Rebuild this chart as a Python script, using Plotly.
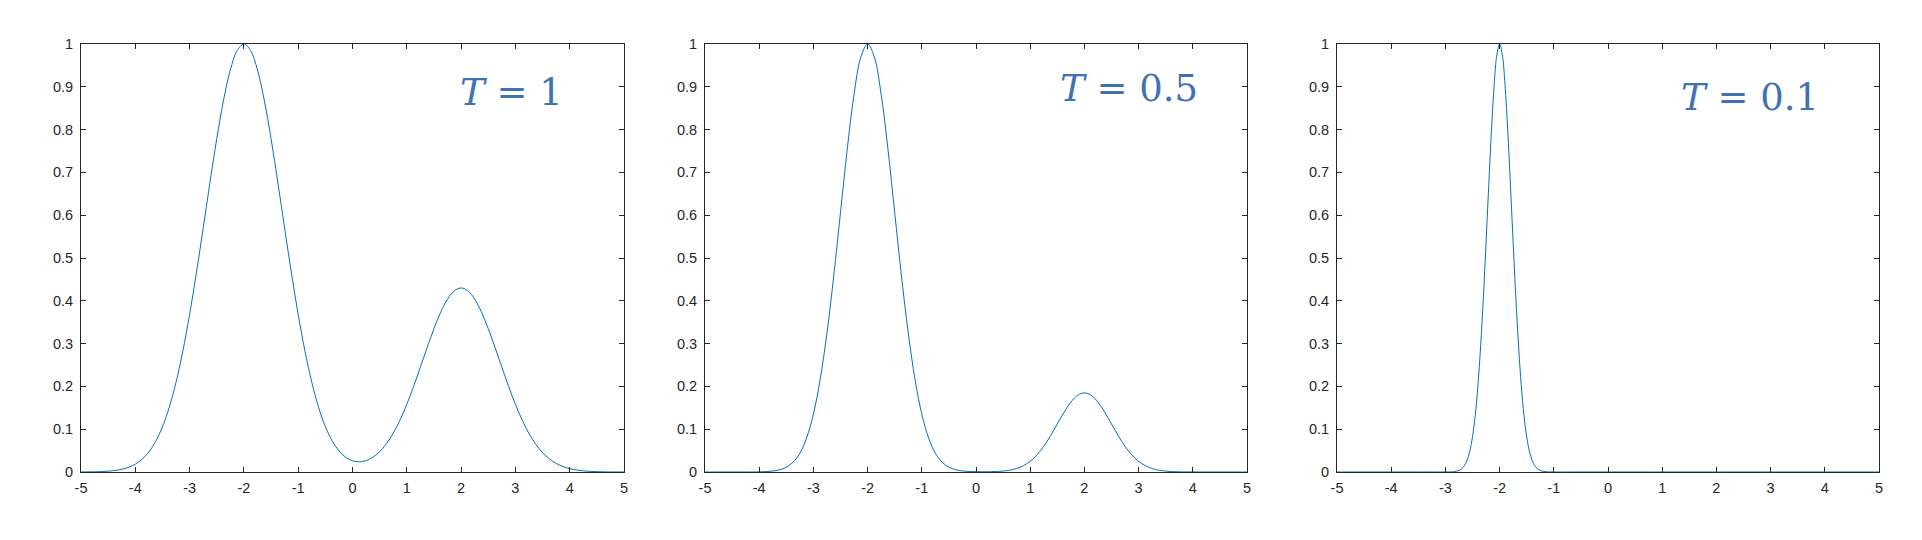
import plotly.graph_objects as go

# ---- data ----
x_t1 = [-5 + 0.125 * i for i in range(81)]
p_t1 = [0.0001, 0.0003, 0.0005, 0.0010, 0.0019, 0.0036, 0.0063, 0.0109, 0.0183, 0.0297, 0.0468, 0.0713,
        0.1054, 0.1510, 0.2096, 0.2821, 0.3679, 0.4650, 0.5698, 0.6766, 0.7788, 0.8688, 0.9394, 0.9845, 1.0,
        0.9845, 0.9394, 0.8688, 0.7788, 0.6766, 0.5698, 0.4650, 0.3679,
        0.2822, 0.2098, 0.1514, 0.1062, 0.0728, 0.0495, 0.0344, 0.0262, 0.0237, 0.0264, 0.0343, 0.0472,
        0.0659, 0.0906, 0.1213, 0.1583, 0.2000, 0.2450, 0.2909, 0.3349, 0.3736, 0.4039, 0.4233, 0.4300,
        0.4233, 0.4039, 0.3736, 0.3349, 0.2909, 0.2450, 0.2000, 0.1582, 0.1213, 0.0901, 0.0649, 0.0453,
        0.0307, 0.0201, 0.0128, 0.0079, 0.0047, 0.0027, 0.0015, 0.0008, 0.0004, 0.0002, 0.0001, 0.0001]

x_t05 = x_t1
p_t05 = [0.0, 0.0, 0.0, 0.0, 0.0, 0.0, 0.00004, 0.0001, 0.0003, 0.0009, 0.0022, 0.0051,
         0.0111, 0.0228, 0.0439, 0.0796, 0.1353, 0.2163, 0.3247, 0.4578, 0.6065, 0.7548, 0.8825, 0.9692, 1.0,
         0.9692, 0.8825, 0.7548, 0.6065, 0.4578, 0.3247, 0.2163, 0.1353,
         0.0796, 0.0440, 0.0229, 0.0113, 0.0053, 0.0025, 0.0012, 0.0007, 0.0006, 0.0007, 0.0012, 0.0022,
         0.0043, 0.0082, 0.0147, 0.0251, 0.0400, 0.0600, 0.0846, 0.1122, 0.1396, 0.1631, 0.1792, 0.1849,
         0.1792, 0.1631, 0.1396, 0.1122, 0.0846, 0.0600, 0.0400, 0.0250, 0.0147, 0.0081, 0.0042, 0.0021,
         0.0009, 0.0004, 0.0002, 0.0001, 0.0, 0.0, 0.0, 0.0, 0.0, 0.0, 0.0, 0.0]

x_t01 = [-5.0, -4.0, -3.5, -3.2, -3.0, -2.9, -2.85, -2.8, -2.75, -2.7, -2.65, -2.6, -2.55, -2.5, -2.45,
         -2.4, -2.35, -2.3, -2.25, -2.2, -2.15, -2.1, -2.05, -2.0, -1.95, -1.9, -1.85, -1.8, -1.75, -1.7,
         -1.65, -1.6, -1.55, -1.5, -1.45, -1.4, -1.35, -1.3, -1.25, -1.2, -1.15, -1.1, -1.0, -0.8, -0.5,
         0.0, 1.0, 2.0, 3.0, 4.0, 5.0]
p_t01 = [0.0, 0.0, 0.0, 0.0, 0.00005, 0.0003, 0.0007, 0.0017, 0.0036, 0.0074, 0.0146, 0.0273, 0.0486, 0.0821, 0.1320,
         0.2019, 0.2938, 0.4066, 0.5353, 0.6703, 0.7985, 0.9048, 0.9753, 1.0, 0.9753, 0.9048, 0.7985, 0.6703, 0.5353, 0.4066,
         0.2938, 0.2019, 0.1320, 0.0821, 0.0486, 0.0273, 0.0146, 0.0074, 0.0036, 0.0017, 0.0007, 0.0003, 0.00005, 0.0, 0.0,
         0.0, 0.0, 0.0, 0.0, 0.0, 0.0]

labels = ["<i>T</i> = 1", "<i>T</i> = 0.5", "<i>T</i> = 0.1"]
label_x = [3.91, 4.13, 3.93]
label_y = [0.886, 0.895, 0.876]

x_ticks = [-5, -4, -3, -2, -1, 0, 1, 2, 3, 4, 5]
y_ticks = [0, 0.1, 0.2, 0.3, 0.4, 0.5, 0.6, 0.7, 0.8, 0.9, 1]
y_ticktext = ["0", "0.1", "0.2", "0.3", "0.4", "0.5", "0.6", "0.7", "0.8", "0.9", "1"]

# ---- layout (pixel geometry) ----
W, H = 1922, 540
panels_px = [(73, 616), (697, 1239), (1329, 1871)]
top_px, bot_px = 36, 464

series = [(x_t1, p_t1), (x_t05, p_t05), (x_t01, p_t01)]

fig = go.Figure()
axis_color = "#262626"
tick_font = dict(family="Liberation Sans, Arial, sans-serif", size=14.5, color=axis_color)
for i, ((xs, ys), (l, r)) in enumerate(zip(series, panels_px)):
    n = "" if i == 0 else str(i + 1)
    fig.add_trace(go.Scatter(
        x=xs, y=ys, mode="lines",
        line=dict(color="#0072BD", width=1, shape="spline", smoothing=1.0),
        xaxis="x" + n, yaxis="y" + n, showlegend=False, hoverinfo="x+y"))
    common = dict(showgrid=False, zeroline=False, showline=True, linecolor=axis_color,
                  linewidth=1, mirror="ticks", ticks="inside", ticklen=5, tickwidth=1,
                  tickcolor=axis_color, automargin=False, tickfont=tick_font)
    fig.update_layout(**{
        "xaxis" + n: dict(domain=[l / W, r / W], range=[-5, 5], tickvals=x_ticks,
                          ticktext=[str(t) for t in x_ticks], anchor="y" + n,
                          ticklabelstandoff=3, **common),
        "yaxis" + n: dict(domain=[1 - bot_px / H, 1 - top_px / H], range=[0, 1],
                          tickvals=y_ticks, ticktext=y_ticktext, anchor="x" + n,
                          ticklabelstandoff=4, **common),
    })
    fig.add_annotation(x=label_x[i], y=label_y[i], xref="x" + n, yref="y" + n,
                       text=labels[i], showarrow=False, xanchor="right", yanchor="middle",
                       font=dict(family="DejaVu Serif, serif", size=37, color="#3F72B4"))

fig.update_layout(width=W, height=H, margin=dict(l=0, r=0, t=0, b=0),
                  paper_bgcolor="white", plot_bgcolor="white")

fig.write_html("out.html")
